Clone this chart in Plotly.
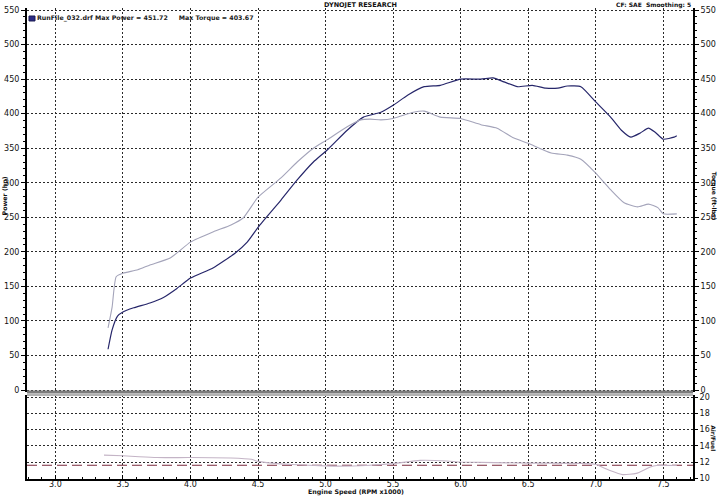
import plotly.graph_objects as go

# ---------------- data ----------------
rpm_power = [3.39, 3.42, 3.46, 3.50, 3.58, 3.70, 3.80, 3.90, 4.00, 4.17, 4.33, 4.42,
             4.51, 4.67, 4.79, 4.91, 5.01, 5.16, 5.28, 5.41, 5.50, 5.61, 5.73, 5.85,
             6.00, 6.15, 6.24, 6.32, 6.42, 6.53, 6.63, 6.72, 6.79, 6.89, 7.00, 7.11,
             7.19, 7.26, 7.33, 7.39, 7.44, 7.50, 7.58, 7.60]
power_hp = [59, 87, 107, 113, 119, 126, 134, 147, 162, 177, 198, 214,
            238, 275, 304, 330, 347, 376, 395, 402, 412, 427, 439, 441,
            450, 450, 451.7, 446, 439, 441, 437, 437, 440, 439, 417, 395,
            376, 366, 372, 379, 373, 363, 366, 368]

rpm_torque = [3.39, 3.42, 3.45, 3.50, 3.61, 3.70, 3.85, 4.00, 4.17, 4.30, 4.39, 4.50,
              4.67, 4.79, 4.91, 5.01, 5.16, 5.26, 5.33, 5.41, 5.50, 5.65, 5.73, 5.85,
              6.00, 6.15, 6.27, 6.39, 6.50, 6.67, 6.79, 6.89, 7.00, 7.11, 7.21, 7.31,
              7.39, 7.46, 7.50, 7.60]
torque_ftlb = [90, 120, 164, 169, 174, 181, 191, 214, 229, 239, 249, 279,
               307, 330, 350, 362, 381, 391, 392, 391, 393, 402, 403.7, 395,
               393, 384, 379, 365, 357, 343, 340, 334, 314, 290, 271, 265,
               269, 264, 255, 255]

rpm_af = [3.36, 3.50, 3.62, 3.75, 4.00, 4.30, 4.45, 4.50, 4.60, 4.75, 5.00, 5.10,
          5.30, 5.50, 5.70, 5.90, 6.00, 6.50, 6.90, 7.00, 7.10, 7.20, 7.30, 7.40,
          7.45, 7.60]
air_fuel = [12.85, 12.77, 12.65, 12.55, 12.55, 12.5, 12.34, 12.08, 11.87, 11.7, 11.53, 11.5,
            11.57, 11.8, 12.2, 12.13, 12.0, 11.87, 11.83, 11.7, 11.0, 10.45, 10.6, 11.36,
            11.57, 11.57]

af_target_rpm = [2.79, 7.72]
af_target = [11.6, 11.6]

x_ticks = [3.0, 3.5, 4.0, 4.5, 5.0, 5.5, 6.0, 6.5, 7.0, 7.5]
x_ticklabels = ["3.0", "3.5", "4.0", "4.5", "5.0", "5.5", "6.0", "6.5", "7.0", "7.5"]
hp_ticks = list(range(0, 551, 50))
af_ticks = [10, 12, 14, 16, 18, 20]

title_text = "DYNOJET RESEARCH"
cf_text = "CF: SAE  Smoothing: 5"
legend_text = "RunFile_032.drf Max Power = 451.72     Max Torque = 403.67"

# ---------------- styling ----------------
FONT = "DejaVu Sans"
POWER_C = "#26266a"
TORQUE_C = "#a4a4ba"
AF_C = "#c4b4c6"
TARGET_C = "#7a2a3c"
GRID_C = "#2a2a2a"
XR = [2.79, 7.72]
TOP_DOM = [0.1847, 1.0]
BOT_DOM = [0.0, 0.1783]

fig = go.Figure()
fig.add_trace(go.Scatter(x=rpm_torque, y=torque_ftlb, mode="lines", xaxis="x", yaxis="y2",
                         line=dict(color=TORQUE_C, width=1.1, shape="spline", smoothing=0.5),
                         showlegend=False, hoverinfo="skip"))
fig.add_trace(go.Scatter(x=rpm_power, y=power_hp, mode="lines", xaxis="x", yaxis="y",
                         line=dict(color=POWER_C, width=1.2, shape="spline", smoothing=0.5),
                         showlegend=False, hoverinfo="skip"))
fig.add_trace(go.Scatter(x=af_target_rpm, y=af_target, mode="lines", xaxis="x2", yaxis="y3",
                         line=dict(color=TARGET_C, width=1.2, dash="10px,5px"),
                         showlegend=False, hoverinfo="skip"))
fig.add_trace(go.Scatter(x=rpm_af, y=air_fuel, mode="lines", xaxis="x2", yaxis="y3",
                         line=dict(color=AF_C, width=1.1, shape="spline", smoothing=0.5),
                         showlegend=False, hoverinfo="skip"))

tickfont = dict(family=FONT, size=8, color="#111111")
grid = dict(showgrid=True, gridcolor=GRID_C, gridwidth=1, griddash="2px,2px", automargin=False)

fig.update_layout(
    template="none",
    width=720, height=496,
    margin=dict(l=27, r=27, t=8, b=17, autoexpand=False),
    paper_bgcolor="white", plot_bgcolor="white",
    showlegend=False,
    xaxis=dict(domain=[0, 1], anchor="y", range=XR, tickvals=x_ticks, showticklabels=False,
               ticks="", zeroline=False, showline=False, **grid),
    yaxis=dict(domain=TOP_DOM, anchor="x", range=[-2.89, 552.9], tickvals=hp_ticks,
               ticks="outside", ticklen=4, tickcolor="black", tickfont=tickfont,
               minor=dict(dtick=10, tick0=0, ticks="outside", ticklen=2, tickcolor="black", showgrid=False),
               showline=True, linecolor="black", linewidth=2, zeroline=False, **grid),
    yaxis2=dict(overlaying="y", side="right", anchor="x", range=[-2.89, 552.9], tickvals=hp_ticks,
                ticks="outside", ticklen=4, tickcolor="black", tickfont=tickfont,
                minor=dict(dtick=10, tick0=0, ticks="outside", ticklen=2, tickcolor="black", showgrid=False),
                showline=True, linecolor="black", linewidth=2, showgrid=False, zeroline=False,
                automargin=False),
    xaxis2=dict(domain=[0, 1], anchor="y3", range=XR, tickvals=x_ticks, ticktext=x_ticklabels,
                ticks="inside", ticklen=4, tickcolor="black", tickfont=tickfont, ticklabelstandoff=-4,
                minor=dict(dtick=0.1, tick0=3.0, ticks="inside", ticklen=2, tickcolor="black", showgrid=False),
                showline=True, linecolor="black", linewidth=2, zeroline=False, **grid),
    yaxis3=dict(domain=BOT_DOM, anchor="x2", side="right", range=[9.91, 20.25], tickvals=af_ticks,
                ticks="outside", ticklen=3, tickcolor="black", tickfont=tickfont,
                showline=True, linecolor="black", linewidth=2, mirror=True, zeroline=False, **grid),
)

# separators between panels
fig.add_shape(type="line", xref="paper", yref="paper", x0=0, x1=1, y0=TOP_DOM[0], y1=TOP_DOM[0],
              line=dict(color="#7c7c7c", width=3))
fig.add_shape(type="line", xref="paper", yref="paper", x0=0, x1=1, y0=BOT_DOM[1], y1=BOT_DOM[1],
              line=dict(color="#b4b4b4", width=2))
# legend icon
fig.add_shape(type="rect", xref="paper", yref="paper", x0=0.003, x1=0.012, y0=0.9724, y1=0.983,
              fillcolor="#2c2c86", line=dict(color="#1a1a50", width=1))

ann = dict(showarrow=False, xref="paper", yref="paper")
fig.add_annotation(text="<b>%s</b>" % title_text, x=0.5, y=1.0064, xanchor="center", yanchor="middle",
                   font=dict(family=FONT, size=6.5, color="#111"), **ann)
fig.add_annotation(text="<b>%s</b>" % cf_text, x=1.0, y=1.0064, xanchor="right", yanchor="middle",
                   font=dict(family=FONT, size=6, color="#111"), **ann)
fig.add_annotation(text="<b>%s</b>" % legend_text, x=0.0125, y=0.978, xanchor="left", yanchor="middle",
                   font=dict(family=FONT, size=6.3, color="#222"), **ann)
fig.add_annotation(text="<b>Power (hp)</b>", x=-0.033, y=0.6, xanchor="center", yanchor="middle",
                   textangle=-90, font=dict(family=FONT, size=6.3, color="#111"), **ann)
fig.add_annotation(text="<b>Torque (ft-lbs)</b>", x=1.031, y=0.6, xanchor="center", yanchor="middle",
                   textangle=90, font=dict(family=FONT, size=6, color="#111"), **ann)
fig.add_annotation(text="<b>Air/Fuel</b>", x=1.031, y=0.0875, xanchor="center", yanchor="middle",
                   textangle=90, font=dict(family=FONT, size=6, color="#111"), **ann)
fig.add_annotation(text="<b>Engine Speed (RPM x1000)</b>", x=0.494, y=-0.027, xanchor="center",
                   yanchor="middle", font=dict(family=FONT, size=6.3, color="#111"), **ann)

# remove the default page margin so the 720x496 figure fills the window exactly
fig.write_html("out.html", config={"displayModeBar": False},
               post_script="document.body.style.margin='0';document.body.style.overflow='hidden';")
